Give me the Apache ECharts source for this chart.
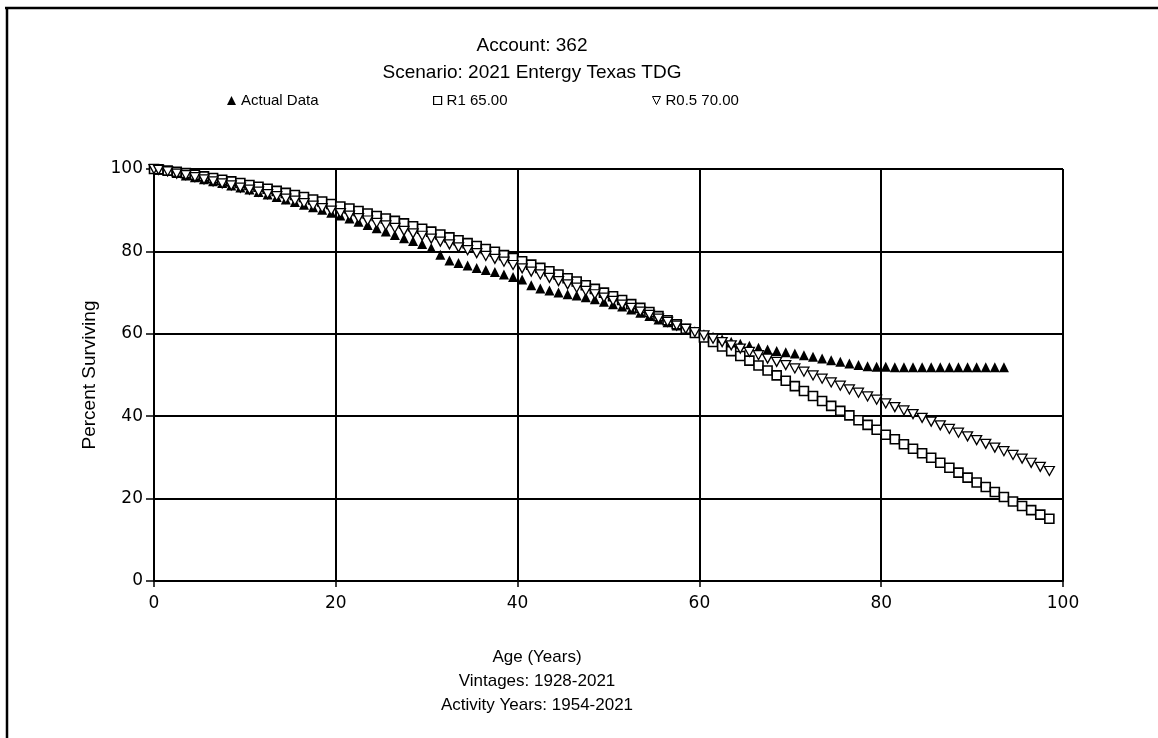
<!DOCTYPE html>
<html>
<head>
<meta charset="utf-8">
<script src="https://cdn.jsdelivr.net/npm/echarts@6/dist/echarts.min.js"></script>
<style>
html,body{margin:0;padding:0;background:#fff;}
#chart{width:1158px;height:738px;}
</style>
</head>
<body>
<div id="chart"></div>
<script>
// Ages (years)
const actualAges = [0,0.5,1.5,2.5,3.5,4.5,5.5,6.5,7.5,8.5,9.5,10.5,11.5,12.5,13.5,14.5,15.5,16.5,17.5,18.5,19.5,20.5,21.5,22.5,23.5,24.5,25.5,26.5,27.5,28.5,29.5,30.5,31.5,32.5,33.5,34.5,35.5,36.5,37.5,38.5,39.5,40.5,41.5,42.5,43.5,44.5,45.5,46.5,47.5,48.5,49.5,50.5,51.5,52.5,53.5,54.5,55.5,56.5,57.5,58.5,59.5,60.5,61.5,62.5,63.5,64.5,65.5,66.5,67.5,68.5,69.5,70.5,71.5,72.5,73.5,74.5,75.5,76.5,77.5,78.5,79.5,80.5,81.5,82.5,83.5,84.5,85.5,86.5,87.5,88.5,89.5,90.5,91.5,92.5,93.5];
const actualData = [100.0,99.8,99.5,99.0,98.4,98.0,97.5,97.0,96.6,96.0,95.5,95.0,94.4,93.8,93.2,92.6,92.0,91.3,90.7,90.1,89.4,88.7,88.0,87.2,86.4,85.6,84.8,84.0,83.2,82.5,81.8,80.8,79.2,77.8,77.2,76.6,76.0,75.5,75.0,74.4,73.8,73.2,71.8,71.0,70.5,70.0,69.6,69.3,68.9,68.4,67.8,67.2,66.6,65.9,65.1,64.3,63.5,62.8,62.0,61.3,60.6,59.9,59.3,58.7,58.1,57.6,57.1,56.6,56.2,55.8,55.5,55.2,54.8,54.4,54.0,53.6,53.2,52.8,52.4,52.1,52.0,52.0,51.9,51.9,51.9,51.9,51.9,51.9,51.9,51.9,51.9,51.9,51.9,51.9,51.9];
const curveAges = [0,0.5,1.5,2.5,3.5,4.5,5.5,6.5,7.5,8.5,9.5,10.5,11.5,12.5,13.5,14.5,15.5,16.5,17.5,18.5,19.5,20.5,21.5,22.5,23.5,24.5,25.5,26.5,27.5,28.5,29.5,30.5,31.5,32.5,33.5,34.5,35.5,36.5,37.5,38.5,39.5,40.5,41.5,42.5,43.5,44.5,45.5,46.5,47.5,48.5,49.5,50.5,51.5,52.5,53.5,54.5,55.5,56.5,57.5,58.5,59.5,60.5,61.5,62.5,63.5,64.5,65.5,66.5,67.5,68.5,69.5,70.5,71.5,72.5,73.5,74.5,75.5,76.5,77.5,78.5,79.5,80.5,81.5,82.5,83.5,84.5,85.5,86.5,87.5,88.5,89.5,90.5,91.5,92.5,93.5,94.5,95.5,96.5,97.5,98.5];
const r1Data = [100.0,99.9,99.6,99.3,99.0,98.6,98.2,97.8,97.4,97.0,96.6,96.1,95.7,95.2,94.7,94.2,93.7,93.2,92.6,92.1,91.5,90.9,90.4,89.8,89.2,88.6,88.0,87.4,86.8,86.1,85.5,84.8,84.1,83.4,82.7,82.0,81.3,80.6,79.9,79.1,78.4,77.6,76.8,76.0,75.2,74.4,73.5,72.7,71.8,70.9,70.0,69.1,68.2,67.2,66.3,65.3,64.3,63.3,62.3,61.2,60.2,59.1,58.0,56.9,55.8,54.6,53.5,52.3,51.1,49.9,48.6,47.3,46.1,44.9,43.7,42.5,41.3,40.2,39.0,37.9,36.7,35.5,34.4,33.2,32.1,31.0,29.9,28.7,27.5,26.3,25.1,23.9,22.8,21.6,20.4,19.3,18.2,17.2,16.1,15.1];
const r05Data = [100.0,99.8,99.4,98.9,98.5,98.0,97.5,97.0,96.5,96.0,95.5,95.0,94.5,93.9,93.4,92.8,92.3,91.7,91.1,90.5,89.9,89.3,88.7,88.1,87.5,86.9,86.3,85.7,85.0,84.4,83.8,83.1,82.4,81.7,81.0,80.3,79.6,78.9,78.2,77.5,76.7,75.9,75.1,74.4,73.6,72.8,72.0,71.2,70.4,69.6,68.8,68.0,67.1,66.3,65.4,64.6,63.7,62.9,62.0,61.2,60.4,59.6,58.8,58.0,57.2,56.4,55.6,54.8,54.0,53.2,52.4,51.6,50.8,49.9,49.1,48.2,47.4,46.5,45.7,44.8,44.0,43.1,42.2,41.4,40.5,39.6,38.7,37.8,36.9,36.0,35.1,34.2,33.3,32.4,31.5,30.6,29.7,28.7,27.7,26.7];
const xTicks = [0,20,40,60,80,100];
const yTicks = [0,20,40,60,80,100];
const seriesNames = ['Actual Data','R1 65.00','R0.5 70.00'];
const titleLines = ['Account: 362','Scenario: 2021 Entergy Texas TDG'];
const footLines = ['Age (Years)','Vintages: 1928-2021','Activity Years: 1954-2021'];
const yAxisName = 'Percent Surviving';

const FONT = '"Liberation Sans", Arial, sans-serif';
const TICKFONT = '"DejaVu Sans", "Liberation Sans", sans-serif';
const downTri = 'path://M0,0 L10,0 L5,10 Z';
const pair = (xs, ys) => xs.map((x, i) => [x, ys[i]]);

const chart = echarts.init(document.getElementById('chart'));
const textCenter = 527;
const footCenter = 532;
chart.setOption({
  backgroundColor: '#fff',
  animation: false,
  title: [
    {text: titleLines[0], left: textCenter, top: 31, textAlign: 'center', textStyle: {fontFamily: FONT, fontSize: 19, fontWeight: 'normal', color: '#000'}},
    {text: titleLines[1], left: textCenter, top: 58, textAlign: 'center', textStyle: {fontFamily: FONT, fontSize: 19, fontWeight: 'normal', color: '#000'}},
    {text: footLines[0], left: footCenter, top: 644, textAlign: 'center', textStyle: {fontFamily: FONT, fontSize: 17, fontWeight: 'normal', color: '#000'}},
    {text: footLines[1], left: footCenter, top: 668, textAlign: 'center', textStyle: {fontFamily: FONT, fontSize: 17, fontWeight: 'normal', color: '#000'}},
    {text: footLines[2], left: footCenter, top: 692, textAlign: 'center', textStyle: {fontFamily: FONT, fontSize: 17, fontWeight: 'normal', color: '#000'}}
  ],
  legend: [
    {left: 222, top: 88, itemWidth: 9, itemHeight: 9, itemGap: 6, textStyle: {fontFamily: FONT, fontSize: 15, color: '#000'},
     data: [{name: seriesNames[0], icon: 'triangle', itemStyle: {color: '#000', borderWidth: 0}}]},
    {left: 428, top: 88, itemWidth: 8, itemHeight: 8, itemGap: 6, textStyle: {fontFamily: FONT, fontSize: 15, color: '#000'},
     data: [{name: seriesNames[1], icon: 'rect', itemStyle: {color: '#fff', borderColor: '#000', borderWidth: 1.2}}]},
    {left: 647, top: 88, itemWidth: 8, itemHeight: 8, itemGap: 6, textStyle: {fontFamily: FONT, fontSize: 15, color: '#000'},
     data: [{name: seriesNames[2], icon: downTri, itemStyle: {color: '#fff', borderColor: '#000', borderWidth: 1}}]}
  ],
  grid: {left: 154, top: 169, right: 95, bottom: 157, containLabel: false},
  xAxis: {
    type: 'value', min: xTicks[0], max: xTicks[xTicks.length - 1], interval: 20,
    axisLine: {show: true, lineStyle: {color: '#000', width: 2}},
    axisTick: {show: true, inside: false, length: 6, lineStyle: {color: '#000', width: 1.5}},
    axisLabel: {fontFamily: TICKFONT, fontSize: 17, color: '#000', margin: 14},
    splitLine: {show: true, lineStyle: {color: '#000', width: 2}}
  },
  yAxis: {
    type: 'value', min: yTicks[0], max: yTicks[yTicks.length - 1], interval: 20,
    name: yAxisName, nameLocation: 'middle', nameGap: 47, nameRotate: 90,
    nameTextStyle: {fontFamily: FONT, fontSize: 19, color: '#000'},
    axisLine: {show: true, lineStyle: {color: '#000', width: 2}},
    axisTick: {show: true, inside: false, length: 8, lineStyle: {color: '#000', width: 1.5}},
    axisLabel: {fontFamily: TICKFONT, fontSize: 17, color: '#000', margin: 11},
    splitLine: {show: true, lineStyle: {color: '#000', width: 2}}
  },
  graphic: [
    {type: 'line', shape: {x1: 5, y1: 8, x2: 1158, y2: 8}, style: {stroke: '#000', lineWidth: 2.5}, silent: true},
    {type: 'line', shape: {x1: 7, y1: 7, x2: 7, y2: 738}, style: {stroke: '#000', lineWidth: 2.5}, silent: true}
  ],
  series: [
    {name: seriesNames[0], type: 'scatter', data: pair(actualAges, actualData), symbol: 'triangle', symbolSize: [10, 10],
     itemStyle: {color: '#000', opacity: 1}},
    {name: seriesNames[1], type: 'scatter', data: pair(curveAges, r1Data), symbol: 'rect', symbolSize: [9, 9],
     itemStyle: {color: '#fff', borderColor: '#000', borderWidth: 1.6, opacity: 1}},
    {name: seriesNames[2], type: 'scatter', data: pair(curveAges, r05Data), symbol: downTri, symbolSize: [10, 9],
     itemStyle: {color: '#fff', borderColor: '#000', borderWidth: 1.3, opacity: 1}}
  ]
});
</script>
</body>
</html>
